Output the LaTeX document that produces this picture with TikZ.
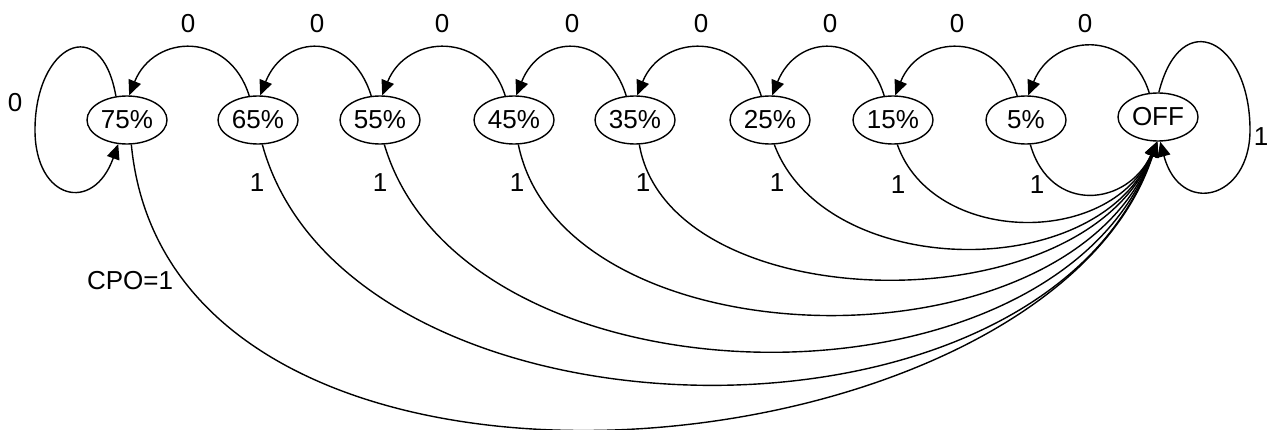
\documentclass[tikz,border=0pt]{standalone}
\usepackage{fontspec}
\setmainfont{Liberation Sans}
\usetikzlibrary{arrows.meta,shapes.geometric}

\begin{document}
\begin{tikzpicture}[x = 1pt, y = -1pt,
  lvl/.style = {ellipse, draw, line width = 1.4pt, minimum width = 80pt, minimum height = 48pt, inner sep = 0pt, font = \fontsize{26}{30}\selectfont},
  lab/.style = {inner sep = 0pt, font = \fontsize{26}{30}\selectfont},
  trans/.style = {line width = 1.4pt, -{Triangle[length = 15pt, width = 13pt]}}]
\useasboundingbox (0,0) rectangle (1272,430);
% states
\node[lvl] (p75) at (127,120) {75\%};
\node[lvl] (p65) at (258,120) {65\%};
\node[lvl] (p55) at (380,120) {55\%};
\node[lvl] (p45) at (514,120) {45\%};
\node[lvl] (p35) at (635,120) {35\%};
\node[lvl] (p25) at (770,120) {25\%};
\node[lvl] (p15) at (893,120) {15\%};
\node[lvl] (p5) at (1026,120) {5\%};
\node[lvl] (off) at (1158,117) {OFF};
% input 0: one step up
\draw[trans] (p65.110) .. controls +(-20,-65) and +(25,-62) .. (p75.85);
\draw[trans] (p55.110) .. controls +(-20,-65) and +(25,-62) .. (p65.85);
\draw[trans] (p45.110) .. controls +(-20,-65) and +(25,-62) .. (p55.85);
\draw[trans] (p35.110) .. controls +(-20,-65) and +(25,-62) .. (p45.85);
\draw[trans] (p25.110) .. controls +(-20,-65) and +(25,-62) .. (p35.85);
\draw[trans] (p15.110) .. controls +(-20,-65) and +(25,-62) .. (p25.85);
\draw[trans] (p5.110) .. controls +(-20,-65) and +(25,-62) .. (p15.85);
\draw[trans] (off.110) .. controls +(-20,-65) and +(25,-62) .. (p5.85);
\node[lab] (z1) at (188,24) {0};
\node[lab] (z2) at (317,24) {0};
\node[lab] (z3) at (442,24) {0};
\node[lab] (z4) at (572,24) {0};
\node[lab] (z5) at (701,24) {0};
\node[lab] (z6) at (830,24) {0};
\node[lab] (z7) at (957,24) {0};
\node[lab] (z8) at (1085,24) {0};
% self loops
\coordinate (wl) at (35,130);
\coordinate (el) at (1250,130);
\draw[trans] (p75.115) .. controls +(-15,-85) and +(0,-85) .. (wl) .. controls +(0,70) and +(-25,70) .. (p75.-110);
\draw[trans] (off.88) .. controls +(22,-88) and +(0,-90) .. (el) .. controls +(0,70) and +(20,75) .. (off.-85);
\node[lab] (zl) at (15,103) {0};
\node[lab] (or) at (1261,137) {1};
% input 1: back to OFF
\draw[trans] (p5.-80) .. controls +(20,70) and +(-30,65) .. (off.-92);
\draw[trans] (p15.-80) .. controls +(35,100) and +(-48,107) .. (off.-92);
\draw[trans] (p25.-80) .. controls +(50,135) and +(-61,144) .. (off.-92);
\draw[trans] (p35.-80) .. controls +(30,175) and +(-75,186) .. (off.-92);
\draw[trans] (p45.-80) .. controls +(45,220) and +(-90,235) .. (off.-92);
\draw[trans] (p55.-80) .. controls +(80,270) and +(-103,283) .. (off.-92);
\draw[trans] (p65.-80) .. controls +(85,310) and +(-114,331) .. (off.-92);
\draw[trans] (p75.-80) .. controls +(40,420) and +(-110,340) .. (off.-92);
\node[lab] (o65) at (257,183) {1};
\node[lab] (o55) at (380,183) {1};
\node[lab] (o45) at (517,183) {1};
\node[lab] (o35) at (643,183) {1};
\node[lab] (o25) at (777,183) {1};
\node[lab] (o15) at (898,185) {1};
\node[lab] (o5) at (1037,185) {1};
\node[lab] (cpo) at (130,281) {CPO=1};
\end{tikzpicture}
\end{document}
